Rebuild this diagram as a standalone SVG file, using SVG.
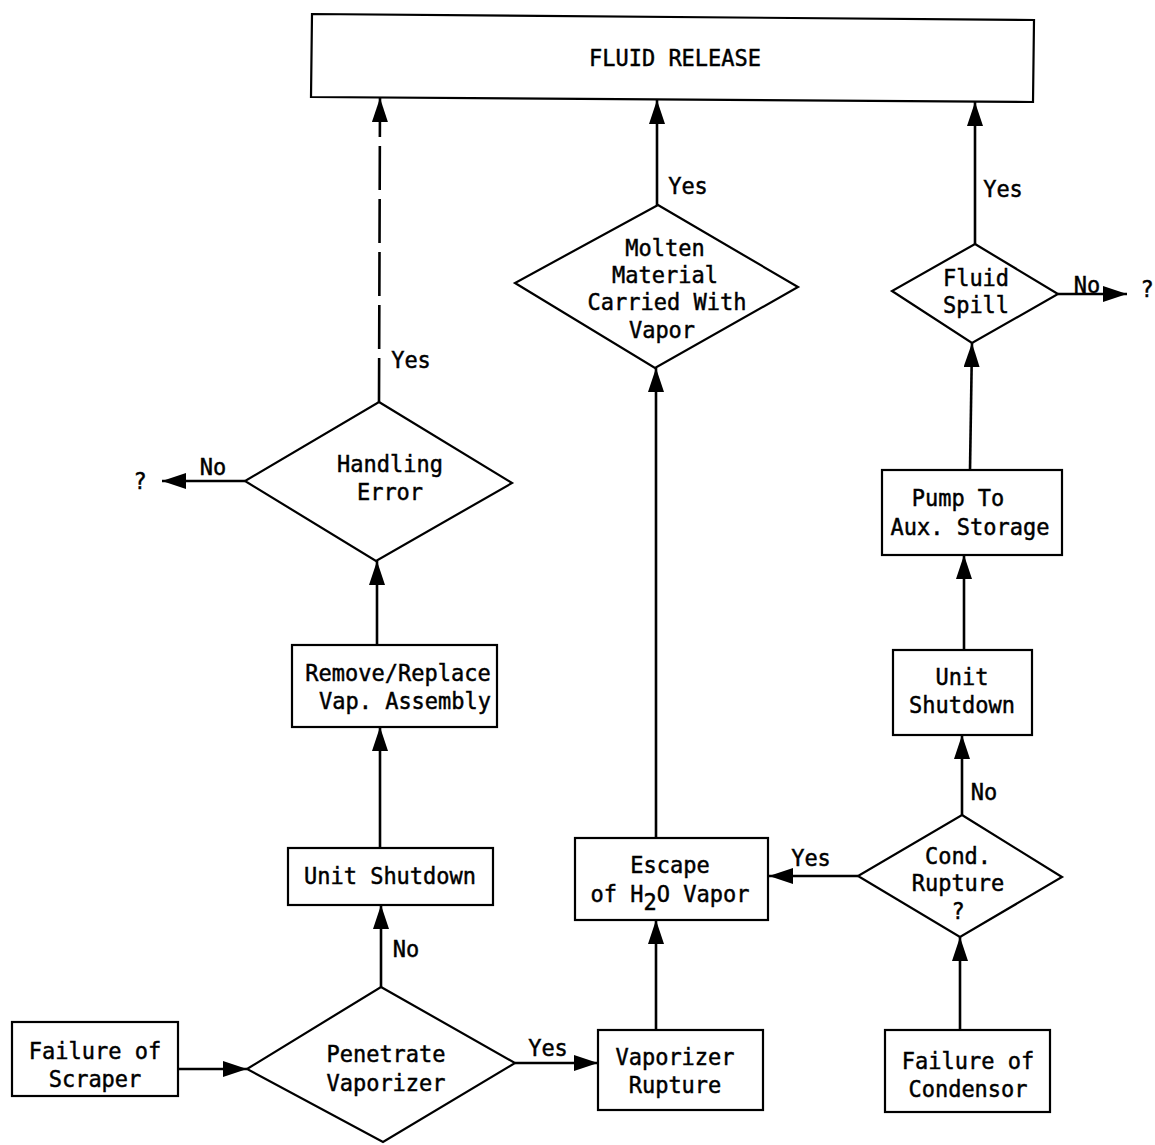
<svg xmlns="http://www.w3.org/2000/svg" width="1155" height="1145" viewBox="0 0 1155 1145">
  <style>
    .box { fill: #ffffff; stroke: #000000; stroke-width: 2.2; }
    .t { font-family: "DejaVu Sans Mono", "Liberation Mono", monospace; font-size: 22px; fill: #000000; stroke: #000000; stroke-width: 0.45; text-anchor: middle; }
    .c { fill: none; stroke: #000000; stroke-width: 2.6; }
    .dash { stroke-dasharray: 44 9; }
  </style>
  <defs>
    <marker id="arrow" markerUnits="userSpaceOnUse" markerWidth="26" markerHeight="18" refX="24" refY="8" orient="auto">
      <path d="M0,0 L24,8 L0,16 z" fill="#000000"/>
    </marker>
  </defs>
  <rect width="1155" height="1145" fill="#ffffff"/>

  <!-- connectors -->
  <g id="connectors">
    <line class="c dash" x1="379" y1="402" x2="380" y2="98" marker-end="url(#arrow)"/>
    <line class="c" x1="657" y1="206" x2="657" y2="100" marker-end="url(#arrow)"/>
    <line class="c" x1="975" y1="244" x2="975" y2="102" marker-end="url(#arrow)"/>
    <line class="c" x1="1058" y1="294" x2="1127" y2="294" marker-end="url(#arrow)"/>
    <line class="c" x1="970" y1="470" x2="972" y2="343" marker-end="url(#arrow)"/>
    <line class="c" x1="964" y1="650" x2="964" y2="555" marker-end="url(#arrow)"/>
    <line class="c" x1="962" y1="815" x2="962" y2="735" marker-end="url(#arrow)"/>
    <line class="c" x1="960" y1="1030" x2="960" y2="937" marker-end="url(#arrow)"/>
    <line class="c" x1="858" y1="876" x2="769" y2="876" marker-end="url(#arrow)"/>
    <line class="c" x1="656" y1="1030" x2="656" y2="920" marker-end="url(#arrow)"/>
    <line class="c" x1="656" y1="838" x2="656" y2="368" marker-end="url(#arrow)"/>
    <line class="c" x1="515" y1="1063" x2="598" y2="1063" marker-end="url(#arrow)"/>
    <line class="c" x1="178" y1="1069" x2="247" y2="1069" marker-end="url(#arrow)"/>
    <line class="c" x1="381" y1="987" x2="381" y2="905" marker-end="url(#arrow)"/>
    <line class="c" x1="380" y1="848" x2="380" y2="727" marker-end="url(#arrow)"/>
    <line class="c" x1="377" y1="645" x2="377" y2="561" marker-end="url(#arrow)"/>
    <line class="c" x1="245" y1="481" x2="162" y2="481" marker-end="url(#arrow)"/>
  </g>

  <!-- connector labels (text stretched vertically to the typewriter proportions) -->
  <g id="labels">
    <text class="t" transform="translate(411 368) scale(1 1.08)">Yes</text>
    <text class="t" transform="translate(213 475) scale(1 1.08)">No</text>
    <text class="t" transform="translate(140 489) scale(1 1.08)">?</text>
    <text class="t" transform="translate(688 194) scale(1 1.08)">Yes</text>
    <text class="t" transform="translate(1003 197) scale(1 1.08)">Yes</text>
    <text class="t" transform="translate(1087 293) scale(1 1.08)">No</text>
    <text class="t" transform="translate(1147 297) scale(1 1.08)">?</text>
    <text class="t" transform="translate(984 800) scale(1 1.08)">No</text>
    <text class="t" transform="translate(811 866) scale(1 1.08)">Yes</text>
    <text class="t" transform="translate(406 957) scale(1 1.08)">No</text>
    <text class="t" transform="translate(548 1056) scale(1 1.08)">Yes</text>
  </g>

  <g id="fluid-release">
    <polygon class="box" points="312,14 1034,20 1033,102 311,97"/>
    <text class="t" transform="translate(675 66) scale(1 1.08)">FLUID RELEASE</text>
  </g>

  <g id="handling-error">
    <polygon class="box" points="379,402 512,483 376,561 245,481"/>
    <text class="t" transform="translate(390 472) scale(1 1.08)">Handling</text>
    <text class="t" transform="translate(390 500) scale(1 1.08)">Error</text>
  </g>

  <g id="molten-material">
    <polygon class="box" points="658,205 798,287 655,368 515,283"/>
    <text class="t" transform="translate(665 256) scale(1 1.08)">Molten</text>
    <text class="t" transform="translate(665 283) scale(1 1.08)">Material</text>
    <text class="t" transform="translate(667 310) scale(1 1.08)">Carried With</text>
    <text class="t" transform="translate(662 338) scale(1 1.08)">Vapor</text>
  </g>

  <g id="fluid-spill">
    <polygon class="box" points="975,244 1058,294 972,343 892,291"/>
    <text class="t" transform="translate(976 286) scale(1 1.08)">Fluid</text>
    <text class="t" transform="translate(976 313) scale(1 1.08)">Spill</text>
  </g>

  <g id="pump-aux">
    <rect class="box" x="882" y="470" width="180" height="85"/>
    <text class="t" transform="translate(958 506) scale(1 1.08)">Pump To</text>
    <text class="t" transform="translate(970 535) scale(1 1.08)">Aux. Storage</text>
  </g>

  <g id="unit-shutdown-right">
    <rect class="box" x="893" y="650" width="139" height="85"/>
    <text class="t" transform="translate(962 685) scale(1 1.08)">Unit</text>
    <text class="t" transform="translate(962 713) scale(1 1.08)">Shutdown</text>
  </g>

  <g id="cond-rupture">
    <polygon class="box" points="962,815 1062,877 960,937 858,876"/>
    <text class="t" transform="translate(958 864) scale(1 1.08)">Cond.</text>
    <text class="t" transform="translate(958 891) scale(1 1.08)">Rupture</text>
    <text class="t" transform="translate(958 919) scale(1 1.08)">?</text>
  </g>

  <g id="failure-condensor">
    <rect class="box" x="885" y="1030" width="165" height="82"/>
    <text class="t" transform="translate(968 1069) scale(1 1.08)">Failure of</text>
    <text class="t" transform="translate(968 1097) scale(1 1.08)">Condensor</text>
  </g>

  <g id="escape-vapor">
    <rect class="box" x="575" y="838" width="193" height="82"/>
    <text class="t" transform="translate(670 873) scale(1 1.08)">Escape</text>
    <text class="t" transform="translate(670 902) scale(1 1.08)">of H<tspan dy="7">2</tspan><tspan dy="-7">O Vapor</tspan></text>
  </g>

  <g id="vaporizer-rupture">
    <rect class="box" x="598" y="1030" width="165" height="80"/>
    <text class="t" transform="translate(675 1065) scale(1 1.08)">Vaporizer</text>
    <text class="t" transform="translate(675 1093) scale(1 1.08)">Rupture</text>
  </g>

  <g id="penetrate-vaporizer">
    <polygon class="box" points="381,987 515,1063 383,1142 247,1069"/>
    <text class="t" transform="translate(386 1062) scale(1 1.08)">Penetrate</text>
    <text class="t" transform="translate(386 1091) scale(1 1.08)">Vaporizer</text>
  </g>

  <g id="failure-scraper">
    <rect class="box" x="12" y="1022" width="166" height="74"/>
    <text class="t" transform="translate(95 1059) scale(1 1.08)">Failure of</text>
    <text class="t" transform="translate(95 1087) scale(1 1.08)">Scraper</text>
  </g>

  <g id="unit-shutdown-left">
    <rect class="box" x="288" y="848" width="205" height="57"/>
    <text class="t" transform="translate(390 884) scale(1 1.08)">Unit Shutdown</text>
  </g>

  <g id="remove-replace">
    <rect class="box" x="292" y="645" width="205" height="82"/>
    <text class="t" transform="translate(398 681) scale(1 1.08)">Remove/Replace</text>
    <text class="t" transform="translate(405 709) scale(1 1.08)">Vap. Assembly</text>
  </g>
</svg>
